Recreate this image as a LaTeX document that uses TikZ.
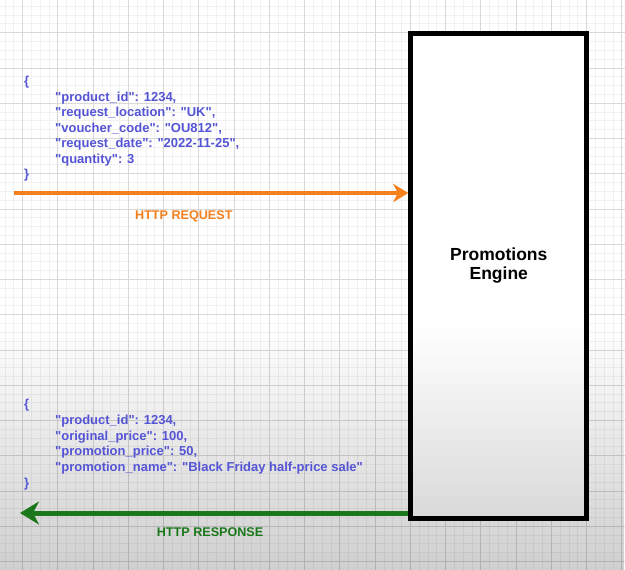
\documentclass[tikz,border=0pt]{standalone}
\usepackage{fontspec}
\setmainfont{Liberation Sans}[Ligatures=TeXOff]
\usetikzlibrary{arrows.meta,fadings}

\definecolor{reqorange}{RGB}{245,128,28}
\definecolor{resgreen}{RGB}{26,120,26}
\definecolor{jsonblue}{RGB}{84,84,214}
\definecolor{gridminor}{RGB}{241,241,241}
\definecolor{gridmajor}{RGB}{216,216,216}

% darkening towards the lower edge of the canvas
\tikzfading[name=fade down, top color=transparent!100, bottom color=transparent!0]

\tikzset{
  minorline/.style={gridminor, line width=1pt},
  majorline/.style={gridmajor, line width=1pt},
  engine box/.style={draw=black, line width=5pt, fill=white,
    minimum width=176pt, minimum height=485.3pt, inner sep=0pt},
  engine text/.style={font=\bfseries\fontsize{17.5}{19.5}\selectfont,
    anchor=base, inner sep=0pt},
  json/.style={font=\bfseries\fontsize{13}{15.5}\selectfont, text=jsonblue,
    anchor=base west, inner sep=0pt},
  reqlabel/.style={font=\bfseries\fontsize{12.6}{15}\selectfont, text=reqorange,
    anchor=base west, inner sep=0pt},
  reslabel/.style={font=\bfseries\fontsize{12.6}{15}\selectfont, text=resgreen,
    anchor=base west, inner sep=0pt},
  reqarrow/.style={draw=reqorange, line width=4.3pt,
    -{Stealth[length=15pt, width=18pt, inset=4.5pt]}},
  resarrow/.style={draw=resgreen, line width=5pt,
    -{Stealth[length=19pt, width=23pt, inset=6pt]}},
}

\begin{document}
\begin{tikzpicture}[x=1pt, y=-1pt]
  \useasboundingbox (0,0) rectangle (625,570);
  \fill[white] (0,0) rectangle (625,570);

  % squared paper: minor step 8.8125, major step 35.25, lines snapped to whole units
  \begin{scope}
    \clip (0,0) rectangle (625,570);
    \foreach \k in {-3,...,69}
      \draw[minorline] ({floor(22.7+8.8125*\k)+0.5},0) -- ++(0,570);
    \foreach \k in {-4,...,62}
      \draw[minorline] (0,{floor(32.8+8.8125*\k)+0.5}) -- ++(625,0);
    \foreach \k in {-1,...,17}
      \draw[majorline] ({floor(22.7+35.25*\k)+0.5},0) -- ++(0,570);
    \foreach \k in {-1,...,16}
      \draw[majorline] (0,{floor(32.8+35.25*\k)+0.5}) -- ++(625,0);
  \end{scope}

  % the service
  \node[engine box] (engine) at (498.8,275.9) {};

  % soft shading of the lower part
  \fill[black, opacity=0.19, path fading=fade down] (0,325) rectangle (625,570);

  \node[engine text] (engineA) at (498.8,260) {Promotions};
  \node[engine text] (engineB) at (498.8,279.5) {Engine};

  % request body
  \node[json] (q0) at (24,85)    {\{};
  \node[json] (q1) at (55,101)   {"product\_id": 1234,};
  \node[json] (q2) at (55,116.5) {"request\_location": "UK",};
  \node[json] (q3) at (55,132)   {"voucher\_code": "OU812",};
  \node[json] (q4) at (55,147.5) {"request\_date": "2022-11-25",};
  \node[json] (q5) at (55,163)   {"quantity": 3};
  \node[json] (q6) at (24,178.5) {\}};

  % request arrow
  \coordinate (reqstart) at (14,193);
  \draw[reqarrow] (reqstart) -- (reqstart -| engine.west);
  \node[reqlabel] (reqtext) at (135,219.3) {HTTP REQUEST};

  % response body
  \node[json] (p0) at (24,408.5) {\{};
  \node[json] (p1) at (55,424.3) {"product\_id": 1234,};
  \node[json] (p2) at (55,440)   {"original\_price": 100,};
  \node[json] (p3) at (55,455.7) {"promotion\_price": 50,};
  \node[json] (p4) at (55,471.4) {"promotion\_name": "Black Friday half-price sale"};
  \node[json] (p5) at (24,487)   {\}};

  % response arrow
  \coordinate (resend) at (20,513);
  \draw[resarrow] (resend -| engine.west) -- (resend);
  \node[reslabel] (restext) at (156.7,536.7) {HTTP RESPONSE};
\end{tikzpicture}
\end{document}
